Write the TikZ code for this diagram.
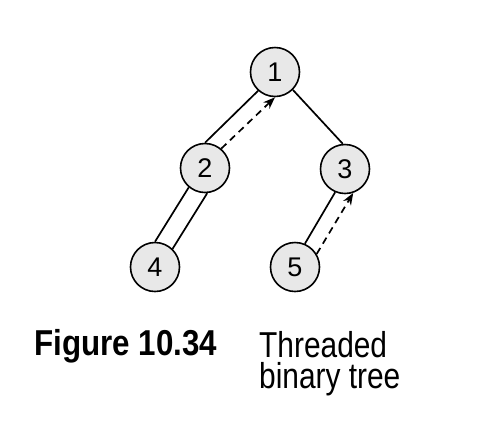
\documentclass[tikz,border=0pt]{standalone}
\usepackage{fontspec}
\setmainfont{Liberation Sans}
\newfontfamily\capbold[FakeStretch=0.87]{Liberation Sans Bold}
\newfontfamily\capreg[FakeStretch=0.83]{Liberation Sans}
\usetikzlibrary{arrows.meta}
\begin{document}
\begin{tikzpicture}[x=1pt,y=-1pt,
  treenode/.style={circle,draw=black,line width=1.6pt,fill=gray!18,minimum size=49pt,inner sep=0pt,font=\fontsize{27}{27}\selectfont},
  edge/.style={line width=1.7pt},
  thread/.style={line width=1.7pt,dash pattern=on 7pt off 5pt,-{Stealth[length=12pt,width=9pt]}},
  captxt/.style={inner sep=0pt,anchor=base west,text height=26pt,text depth=4pt}]
\useasboundingbox (0,0) rectangle (487,440);
\node[treenode] (n1) at (275,72) {1};
\node[treenode] (n2) at (205,168) {2};
\node[treenode] (n3) at (345,169) {3};
\node[treenode] (n4) at (155,267) {4};
\node[treenode] (n5) at (295,267) {5};
\draw[edge] (n2.90) -- (n1.228);
\draw[thread] (n2.50) -- (n1.270);
\draw[edge] (n1.315) -- (n3.95);
\draw[edge] (n2.230) -- (n4.90);
\draw[edge] (n2.275) -- (n4.46);
\draw[edge] (n5.67) -- (n3.247);
\draw[thread] (n5.31) -- (n3.289);
\node[captxt,font=\capbold\fontsize{36}{36}\selectfont] (fig) at (34,355) {Figure 10.34};
\node[captxt,font=\capreg\fontsize{36}{36}\selectfont] (cap1) at (259,357) {Threaded};
\node[captxt,font=\capreg\fontsize{36}{36}\selectfont] (cap2) at (259,388) {binary tree};
\end{tikzpicture}
\end{document}
